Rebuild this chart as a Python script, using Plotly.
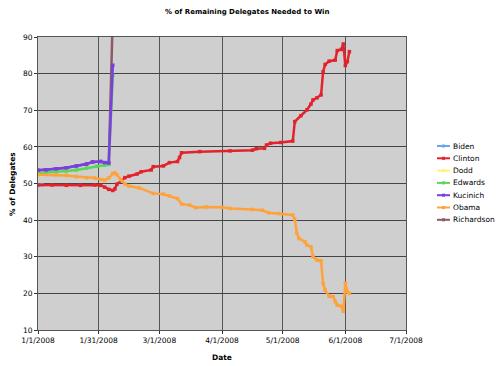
import plotly.graph_objects as go

# ---------------- data ----------------
biden_dates = ["2008-01-01", "2008-01-03"]
biden_vals = [49.6, 49.6]

clinton_dates = ["2008-01-01", "2008-01-08", "2008-01-15", "2008-01-22", "2008-01-29", "2008-02-01",
                 "2008-02-03", "2008-02-05", "2008-02-07", "2008-02-08", "2008-02-09", "2008-02-11",
                 "2008-02-13", "2008-02-15", "2008-02-19", "2008-02-21", "2008-02-26", "2008-02-27",
                 "2008-03-03", "2008-03-06", "2008-03-10", "2008-03-11", "2008-03-12", "2008-03-21",
                 "2008-04-05", "2008-04-16", "2008-04-18", "2008-04-22", "2008-04-23", "2008-04-25",
                 "2008-04-30", "2008-05-06", "2008-05-07", "2008-05-10", "2008-05-13", "2008-05-15",
                 "2008-05-16", "2008-05-18", "2008-05-20", "2008-05-21", "2008-05-22", "2008-05-24",
                 "2008-05-27", "2008-05-28", "2008-05-30", "2008-05-31", "2008-06-01", "2008-06-02",
                 "2008-06-03"]
clinton_vals = [49.6, 49.6, 49.5, 49.5, 49.6, 49.5,
                49.0, 48.4, 48.1, 48.5, 49.8, 50.8,
                51.6, 52.0, 52.6, 53.2, 53.7, 54.6,
                54.8, 55.7, 56.0, 57.1, 58.4, 58.7,
                58.9, 59.1, 59.5, 59.6, 60.5, 61.0,
                61.2, 61.6, 66.9, 68.5, 70.1, 71.7,
                72.8, 73.4, 74.2, 80.5, 82.5, 83.4,
                83.7, 86.3, 86.6, 88.1, 82.2, 83.3,
                86.0]

dodd_dates = ["2008-01-01", "2008-01-03"]
dodd_vals = [52.4, 52.4]

edwards_dates = ["2008-01-01", "2008-01-05", "2008-01-10", "2008-01-15", "2008-01-20", "2008-01-25",
                 "2008-01-30", "2008-02-03", "2008-02-05", "2008-02-07"]
edwards_vals = [52.9, 53.0, 53.1, 53.4, 53.7, 54.2, 54.7, 55.0, 55.2, 79.5]

kucinich_dates = ["2008-01-01", "2008-01-05", "2008-01-10", "2008-01-15", "2008-01-20", "2008-01-25",
                  "2008-01-28", "2008-02-01", "2008-02-03", "2008-02-05", "2008-02-07"]
kucinich_vals = [53.6, 53.7, 54.0, 54.3, 54.8, 55.3, 55.9, 56.0, 55.7, 55.6, 82.3]

obama_dates = ["2008-01-01", "2008-01-10", "2008-01-15", "2008-01-20", "2008-01-25", "2008-01-29",
               "2008-02-01", "2008-02-03", "2008-02-05", "2008-02-07", "2008-02-08", "2008-02-09",
               "2008-02-11", "2008-02-13", "2008-02-15", "2008-02-20", "2008-02-27", "2008-03-03",
               "2008-03-06", "2008-03-10", "2008-03-12", "2008-03-16", "2008-03-19", "2008-03-24",
               "2008-04-01", "2008-04-05", "2008-04-16", "2008-04-21", "2008-04-24", "2008-04-29",
               "2008-05-06", "2008-05-07", "2008-05-08", "2008-05-09", "2008-05-12", "2008-05-13",
               "2008-05-15", "2008-05-16", "2008-05-18", "2008-05-20", "2008-05-21", "2008-05-22",
               "2008-05-24", "2008-05-26", "2008-05-27", "2008-05-28", "2008-05-30", "2008-05-31",
               "2008-06-01", "2008-06-02", "2008-06-03"]
obama_vals = [52.4, 52.4, 52.2, 51.9, 51.6, 51.5,
              51.1, 50.9, 51.5, 52.7, 52.9, 52.4,
              51.0, 49.9, 49.3, 48.8, 47.3, 47.1,
              46.6, 45.9, 44.4, 44.1, 43.4, 43.6,
              43.5, 43.2, 42.9, 42.7, 42.0, 41.8,
              41.4, 40.2, 36.5, 35.0, 34.1, 33.2,
              32.7, 30.0, 29.1, 28.9, 22.7, 20.9,
              19.2, 19.1, 17.7, 16.8, 16.5, 15.1,
              22.8, 20.4, 20.0]

richardson_dates = ["2008-01-01", "2008-01-05", "2008-01-10", "2008-01-15", "2008-01-20", "2008-01-25",
                    "2008-01-28", "2008-02-01", "2008-02-03", "2008-02-05", "2008-02-07"]
richardson_vals = [53.6, 53.7, 54.0, 54.3, 54.8, 55.3, 55.9, 56.0, 55.7, 55.6, 96.0]

tick_dates = ["2008-01-01", "2008-01-31", "2008-03-01", "2008-04-01", "2008-05-01", "2008-06-01", "2008-07-01"]
tick_labels = ["1/1/2008", "1/31/2008", "3/1/2008", "4/1/2008", "5/1/2008", "6/1/2008", "7/1/2008"]

series = [
    ("Biden", biden_dates, biden_vals, "#6aa6f0"),
    ("Clinton", clinton_dates, clinton_vals, "#e3232c"),
    ("Dodd", dodd_dates, dodd_vals, "#fff27a"),
    ("Edwards", edwards_dates, edwards_vals, "#5ad65a"),
    ("Kucinich", kucinich_dates, kucinich_vals, "#7a3ee6"),
    ("Obama", obama_dates, obama_vals, "#ffa23a"),
    ("Richardson", richardson_dates, richardson_vals, "#8c5a64"),
]
# drawing order (Richardson underneath the others)
draw_order = [6, 0, 1, 2, 3, 4, 5]

# plot-area geometry in pixels (layout only)
W, H = 500, 366
L, R, T, B = 38, 94, 37, 36
PW, PH = W - L - R, H - T - B


def px_x(px):
    return (px - L) / PW


def px_y(py):
    return (H - B - py) / PH


fig = go.Figure()
for k in draw_order:
    name, d, v, c = series[k]
    fig.add_trace(go.Scatter(
        x=d, y=v, name=name, mode="lines+markers",
        line=dict(color=c, width=2.5),
        marker=dict(symbol="square", size=3.5, color=c),
        showlegend=False, hoverinfo="skip",
    ))

shapes = []
annotations = []
for i, (name, d, v, c) in enumerate(series):
    # custom compact legend entry
    ly = 146 + i * 12.3
    shapes.append(dict(type="line", xref="paper", yref="paper",
                       x0=px_x(437), x1=px_x(450), y0=px_y(ly), y1=px_y(ly),
                       line=dict(color=c, width=2)))
    shapes.append(dict(type="rect", xref="paper", yref="paper",
                       x0=px_x(442), x1=px_x(445), y0=px_y(ly - 1.5), y1=px_y(ly + 1.5),
                       line=dict(width=0), fillcolor=c))
    annotations.append(dict(text=name, xref="paper", yref="paper",
                            x=px_x(451), y=px_y(ly), xanchor="left", yanchor="middle",
                            showarrow=False, font=dict(size=7.5, color="black")))

annotations.append(dict(text="<b>% of Delegates</b>", xref="paper", yref="paper",
                        x=px_x(12), y=px_y(184), xanchor="center", yanchor="middle",
                        textangle=-90, showarrow=False, font=dict(size=7.5, color="black")))
annotations.append(dict(text="<b>Date</b>", xref="paper", yref="paper",
                        x=px_x(222), y=px_y(357), xanchor="center", yanchor="middle",
                        showarrow=False, font=dict(size=7.5, color="black")))
annotations.append(dict(text="<b>% of Remaining Delegates Needed to Win</b>", xref="paper", yref="paper",
                        x=px_x(247), y=px_y(12), xanchor="center", yanchor="middle",
                        showarrow=False, font=dict(size=7, color="black")))

fig.update_layout(
    width=W, height=H,
    margin=dict(l=L, r=R, t=T, b=B),
    paper_bgcolor="white",
    plot_bgcolor="#cfcfcf",
    font=dict(family="DejaVu Sans", size=8, color="black"),
    showlegend=False,
    hovermode=False,
    shapes=shapes,
    annotations=annotations,
    xaxis=dict(
        type="date", range=["2008-01-01", "2008-07-01"],
        tickvals=tick_dates, ticktext=tick_labels,
        showgrid=True, gridcolor="#555555", gridwidth=1,
        showline=True, linecolor="#555555", mirror=True,
        ticks="outside", ticklen=3, tickcolor="#333333",
        tickfont=dict(size=7.5),
        automargin=False, zeroline=False,
    ),
    yaxis=dict(
        range=[10, 90], dtick=10, tick0=10,
        showgrid=True, gridcolor="#444444", gridwidth=1,
        showline=True, linecolor="#555555", mirror=True,
        ticks="outside", ticklen=3, tickcolor="#333333",
        tickfont=dict(size=7.5),
        automargin=False, zeroline=False,
    ),
)

fig.write_html("out.html",
               config={"displayModeBar": False, "staticPlot": True},
               post_script="document.body.style.margin='0';document.body.style.padding='0';")
